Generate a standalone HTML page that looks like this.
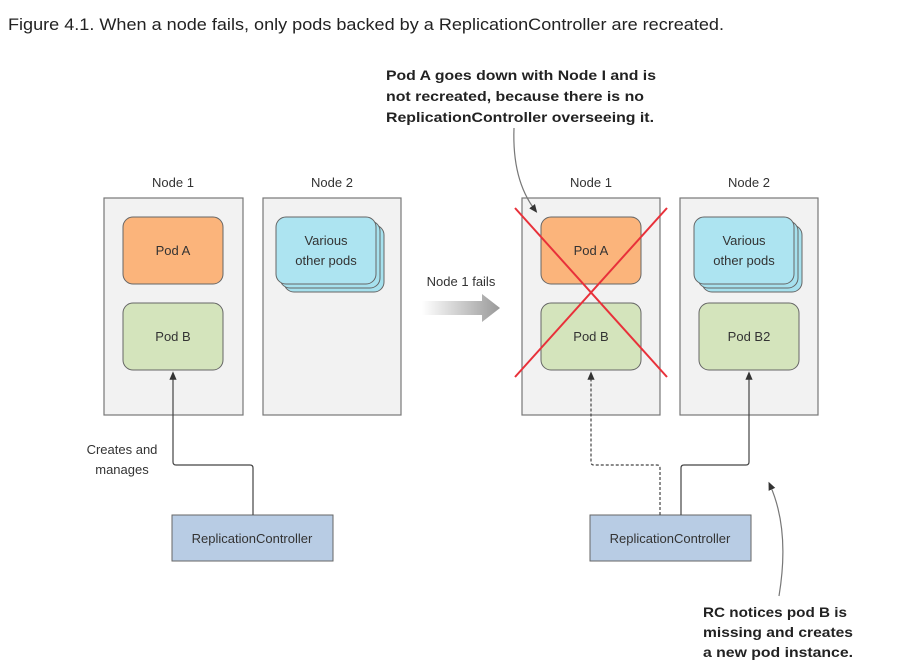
<!DOCTYPE html>
<html><head><meta charset="utf-8"><style>
html,body{margin:0;padding:0;background:#fff;}
svg{display:block;}
text{font-family:"Liberation Sans",sans-serif;}
</style></head><body>
<svg width="904" height="666" viewBox="0 0 904 666" xmlns="http://www.w3.org/2000/svg">
<defs>
<linearGradient id="g" x1="0" x2="1" y1="0" y2="0"><stop offset="0" stop-color="#fff"/><stop offset="1" stop-color="#999"/></linearGradient>
<marker id="ah" markerWidth="8" markerHeight="8" refX="4" refY="4" orient="auto"><path d="M0,1 L7,4 L0,7 Z" fill="#333"/></marker>
</defs>
<text x="8" y="30" font-size="17" fill="#222" textLength="716" lengthAdjust="spacingAndGlyphs">Figure 4.1. When a node fails, only pods backed by a ReplicationController are recreated.</text>
<g font-weight="bold" font-size="14" fill="#222">
<text x="386" y="80" textLength="270" lengthAdjust="spacingAndGlyphs">Pod A goes down with Node I and is</text>
<text x="386" y="101" textLength="258" lengthAdjust="spacingAndGlyphs">not recreated, because there is no</text>
<text x="386" y="122" textLength="268" lengthAdjust="spacingAndGlyphs">ReplicationController overseeing it.</text>
<text x="703" y="617" textLength="144" lengthAdjust="spacingAndGlyphs">RC notices pod B is</text>
<text x="703" y="637" textLength="150" lengthAdjust="spacingAndGlyphs">missing and creates</text>
<text x="703" y="657" textLength="150" lengthAdjust="spacingAndGlyphs">a new pod instance.</text>
</g>
<g font-size="13" fill="#333" text-anchor="middle">
<text x="173" y="187">Node 1</text><text x="332" y="187">Node 2</text>
<text x="591" y="187">Node 1</text><text x="749" y="187">Node 2</text>
</g>
<g fill="#f2f2f2" stroke="#777" stroke-width="1.2">
<rect x="104" y="198" width="139" height="217"/><rect x="263" y="198" width="138" height="217"/>
<rect x="522" y="198" width="138" height="217"/><rect x="680" y="198" width="138" height="217"/>
</g>
<g stroke="#666" stroke-width="1">
<rect x="123" y="217" width="100" height="67" rx="10" fill="#fbb47b"/>
<rect x="123" y="303" width="100" height="67" rx="10" fill="#d4e4bc"/>
<rect x="541" y="217" width="100" height="67" rx="10" fill="#fbb47b"/>
<rect x="541" y="303" width="100" height="67" rx="10" fill="#d4e4bc"/>
<rect x="699" y="303" width="100" height="67" rx="10" fill="#d4e4bc"/>
<rect x="284" y="225" width="100" height="67" rx="10" fill="#a6e1ee"/>
<rect x="280" y="221" width="100" height="67" rx="10" fill="#a6e1ee"/>
<rect x="276" y="217" width="100" height="67" rx="10" fill="#ade4f1"/>
<rect x="702" y="225" width="100" height="67" rx="10" fill="#a6e1ee"/>
<rect x="698" y="221" width="100" height="67" rx="10" fill="#a6e1ee"/>
<rect x="694" y="217" width="100" height="67" rx="10" fill="#ade4f1"/>
<rect x="172" y="515" width="161" height="46" fill="#b8cce4"/>
<rect x="590" y="515" width="161" height="46" fill="#b8cce4"/>
</g>
<g font-size="13" fill="#333" text-anchor="middle">
<text x="173" y="255">Pod A</text><text x="173" y="341">Pod B</text>
<text x="591" y="255">Pod A</text><text x="591" y="341">Pod B</text><text x="749" y="341">Pod B2</text>
<text x="326" y="245">Various</text><text x="326" y="265">other pods</text>
<text x="744" y="245">Various</text><text x="744" y="265">other pods</text>
<text x="252" y="543">ReplicationController</text><text x="670" y="543">ReplicationController</text>
<text x="122" y="454">Creates and</text><text x="122" y="474">manages</text>
<text x="461" y="286">Node 1 fails</text>
</g>
<path d="M422,301 H482 V294 L500,308 L482,322 V315 H422 Z" fill="url(#g)"/>
<g fill="none" stroke="#444" stroke-width="1.2">
<path d="M253,515 V468 Q253,465 250,465 H176 Q173,465 173,462 V375" marker-end="url(#ah)"/>
<path d="M681,515 V468 Q681,465 684,465 H746 Q749,465 749,462 V375" marker-end="url(#ah)"/>
<path d="M660,515 V468 Q660,465 657,465 H594 Q591,465 591,462 V375" stroke-dasharray="3,2" marker-end="url(#ah)"/>
<path d="M514,128 Q512,180 535,210" stroke="#777" marker-end="url(#ah)"/>
<path d="M779,596 Q790,530 770,485" stroke="#777" marker-end="url(#ah)"/>
</g>
<g stroke="#e8313a" stroke-width="2">
<line x1="515" y1="208" x2="667" y2="377"/><line x1="667" y1="208" x2="515" y2="377"/>
</g>
</svg>
</body></html>
